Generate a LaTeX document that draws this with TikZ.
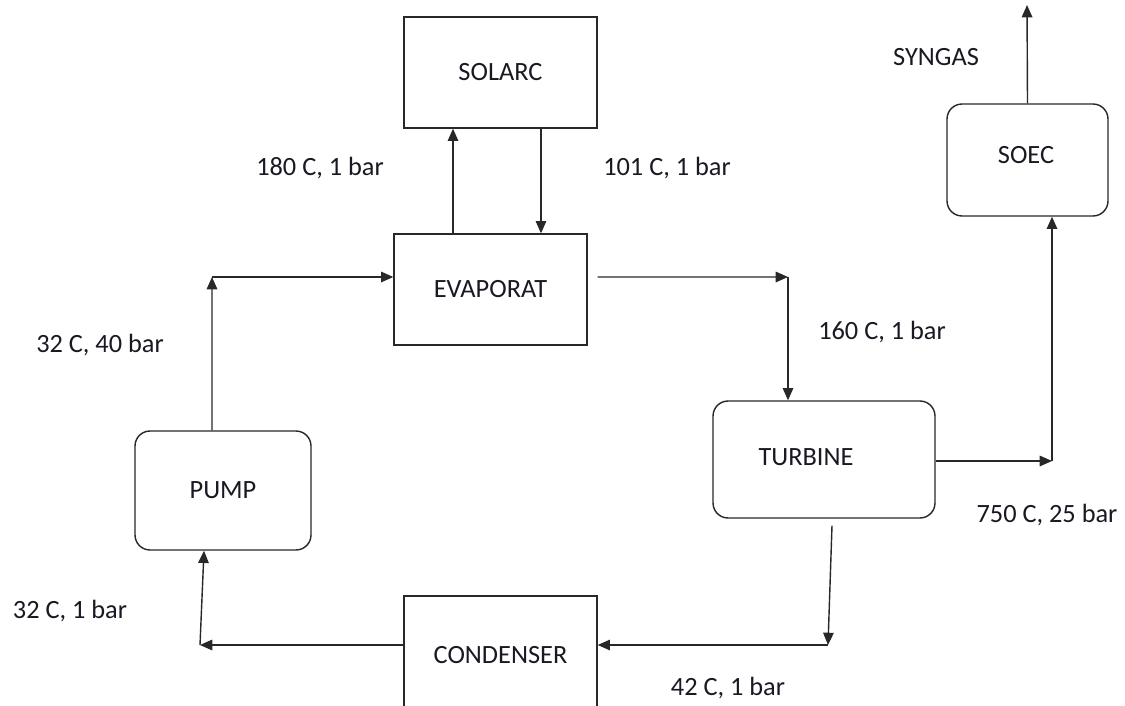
\documentclass[tikz,border=0pt]{standalone}
\usepackage{fontspec}
\setmainfont{Carlito}
\definecolor{LineColor}{RGB}{40,40,40}
\definecolor{TextColor}{RGB}{25,25,35}
\usetikzlibrary{positioning, arrows.meta}
\tikzset{
  unitBox/.style={draw=LineColor, line width=0.8pt, text=TextColor, font=\fontsize{15}{18}\selectfont, inner sep=0pt},
  roundBox/.style={unitBox, rounded corners=0.3cm},
  flowArrow/.style={draw=LineColor, line width=0.8pt, -{Triangle[length=7pt,width=6pt]}},
  stateLabel/.style={text=TextColor, font=\fontsize{15}{18}\selectfont, inner sep=0pt}
}

\begin{document}
\begin{tikzpicture}[x=0.02cm, y=-0.02cm]
          \clip (0,0) rectangle (1125,706);
          \fill[white] (0,0) rectangle (1125,706);
          \node[unitBox, minimum width=3.86cm, minimum height=2.22cm] (solarc) at (500.5,72.5) {SOLARC};
          \node[unitBox, minimum width=3.86cm, minimum height=2.22cm] (evap) at (490.5,289.5) {EVAPORAT};
          \node[roundBox, minimum width=3.22cm, minimum height=2.24cm] (soec) at (1027.5,160) {};
          \node[stateLabel] (soecText) at (1026,155) {SOEC};
          \node[roundBox, minimum width=4.44cm, minimum height=2.34cm] (turb) at (824,459.5) {};
          \node[stateLabel] (turbText) at (806,457) {TURBINE};
          \node[roundBox, minimum width=3.52cm, minimum height=2.38cm] (pump) at (223,490.5) {PUMP};
          \node[unitBox, minimum width=3.86cm, minimum height=2.36cm] (cond) at (500.5,655) {CONDENSER};

          \coordinate (evapBend) at (788,277);
          \coordinate (turbBend) at (1052,461);
          \coordinate (syngasOut) at (1027,5);
          \coordinate (condBend) at (828,645);
          \coordinate (pumpBend) at (200,645);
          \coordinate (evapIn) at (212,277);

          \draw[flowArrow] ([xshift=-0.75cm]evap.north) -- ([xshift=-0.75cm]evap.north |- solarc.south);
          \draw[flowArrow] ([xshift=0.81cm]solarc.south) -- ([xshift=0.81cm]solarc.south |- evap.north);
          \draw[flowArrow] ([shift={(0.2cm,0.25cm)}]evap.east) -- (evapBend);
          \draw[flowArrow] (evapBend) -- (evapBend |- turb.north);
          \draw[flowArrow] (turb.east |- turbBend) -- (turbBend);
          \draw[flowArrow] (turbBend) -- (turbBend |- soec.south);
          \draw[flowArrow] (soec.north) -- (syngasOut);
          \draw[flowArrow] ([shift={(0.16cm,-0.14cm)}]turb.south) -- (condBend);
          \draw[flowArrow] (condBend) -- (condBend -| cond.east);
          \draw[flowArrow] (cond.west |- pumpBend) -- (pumpBend);
          \draw[flowArrow] (pumpBend) -- ([xshift=-0.38cm]pump.south);
          \draw[flowArrow] ([xshift=-0.22cm]pump.north) -- (evapIn);
          \draw[flowArrow] (evapIn) -- (evapIn -| evap.west);

          \node[stateLabel] (syngas) at (936,57) {SYNGAS};
          \node[stateLabel] (solarcOut) at (320,168) {180 C, 1 bar};
          \node[stateLabel] (solarcIn) at (667,168) {101 C, 1 bar};
          \node[stateLabel] (turbIn) at (882,332) {160 C, 1 bar};
          \node[stateLabel] (pumpOut) at (100,345) {32 C, 40 bar};
          \node[stateLabel] (soecIn) at (1047,515) {750 C, 25 bar};
          \node[stateLabel] (pumpIn) at (70,611) {32 C, 1 bar};
          \node[stateLabel] (condIn) at (728,688) {42 C, 1 bar};
        \end{tikzpicture}
\end{document}
